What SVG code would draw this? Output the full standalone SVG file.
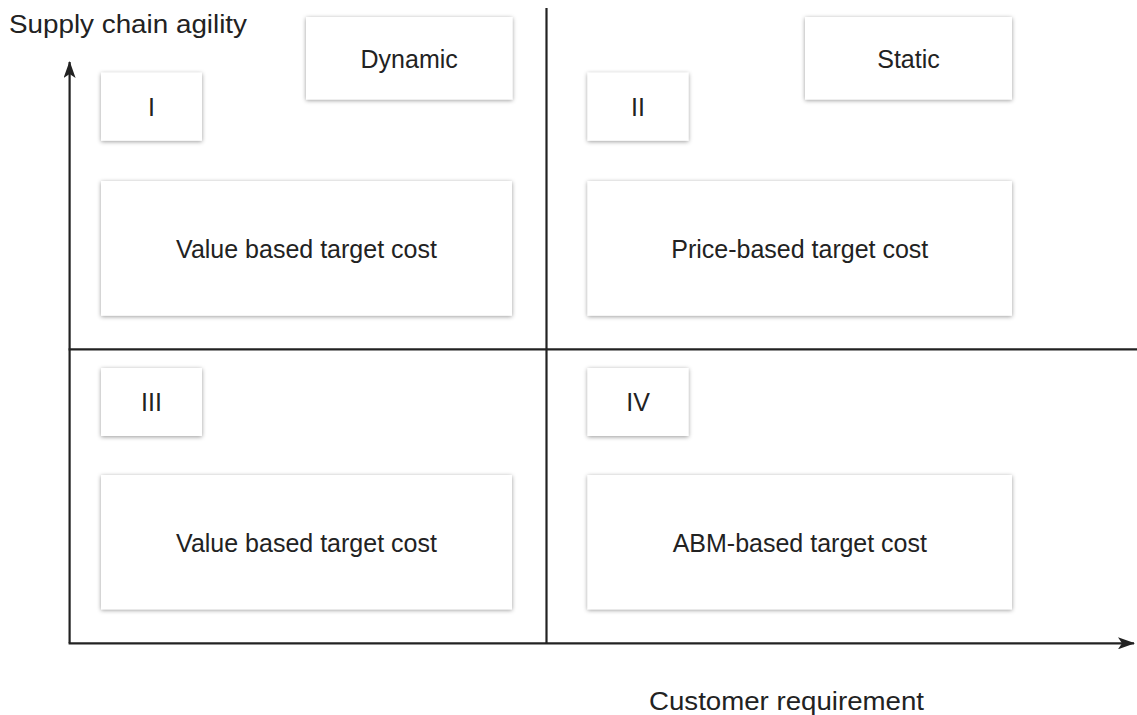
<svg xmlns="http://www.w3.org/2000/svg" width="1137" height="715" viewBox="0 0 1137 715">
  <style>
    .box { fill: #ffffff; filter: url(#soft); }
    .lbl { font-family: "Liberation Sans", Arial, sans-serif; font-size: 25px; fill: #222222; text-anchor: middle; }
    .axis-lbl { font-family: "Liberation Sans", Arial, sans-serif; font-size: 26px; fill: #222222; }
    .line { stroke: #222222; stroke-width: 2.2; fill: none; }
  </style>
  <defs>
    <filter id="soft" x="-10%" y="-20%" width="120%" height="140%">
      <feDropShadow dx="0" dy="1" stdDeviation="2" flood-color="#000000" flood-opacity="0.4"/>
    </filter>
    <marker id="arrow" viewBox="0 0 17 12" refX="16" refY="6" markerWidth="17" markerHeight="12" markerUnits="userSpaceOnUse" orient="auto">
      <path d="M0,0 L17,6 L0,12 L4,6 Z" fill="#222222"/>
    </marker>
  </defs>

  <rect width="1137" height="715" fill="#ffffff"/>

  <!-- axes and quadrant dividers -->
  <g id="connectors">
    <line class="line" x1="69.6" y1="643.3" x2="69.6" y2="62" marker-end="url(#arrow)"/>
    <line class="line" x1="68.6" y1="643.3" x2="1134" y2="643.3" marker-end="url(#arrow)"/>
    <line class="line" x1="546.5" y1="8" x2="546.5" y2="643.3"/>
    <line class="line" x1="68.6" y1="349.3" x2="1137" y2="349.3"/>
  </g>

  <!-- axis titles -->
  <g id="axis-y-title">
    <text class="axis-lbl" x="9" y="33" textLength="238" lengthAdjust="spacingAndGlyphs">Supply chain agility</text>
  </g>
  <g id="axis-x-title">
    <text class="axis-lbl" x="649" y="710" textLength="275" lengthAdjust="spacingAndGlyphs">Customer requirement</text>
  </g>

  <!-- column headers -->
  <g id="dynamic">
    <rect class="box" x="306" y="17" width="206.5" height="82.5"/>
    <text class="lbl" x="409.2" y="68">Dynamic</text>
  </g>
  <g id="static">
    <rect class="box" x="805" y="17" width="207" height="82.5"/>
    <text class="lbl" x="908.5" y="68">Static</text>
  </g>

  <!-- quadrant I -->
  <g id="q1">
    <rect class="box" x="101" y="72.7" width="101" height="68"/>
    <text class="lbl" x="151.5" y="116">I</text>
  </g>
  <g id="q1-cost">
    <rect class="box" x="101" y="181" width="411" height="134.7"/>
    <text class="lbl" x="306.5" y="258">Value based target cost</text>
  </g>

  <!-- quadrant II -->
  <g id="q2">
    <rect class="box" x="587.5" y="72.7" width="101" height="68"/>
    <text class="lbl" x="638" y="116">II</text>
  </g>
  <g id="q2-cost">
    <rect class="box" x="587.5" y="181" width="424.5" height="134.7"/>
    <text class="lbl" x="799.8" y="258">Price-based target cost</text>
  </g>

  <!-- quadrant III -->
  <g id="q3">
    <rect class="box" x="101" y="368" width="101" height="68"/>
    <text class="lbl" x="151.5" y="411">III</text>
  </g>
  <g id="q3-cost">
    <rect class="box" x="101" y="475" width="411" height="134.3"/>
    <text class="lbl" x="306.5" y="551.7">Value based target cost</text>
  </g>

  <!-- quadrant IV -->
  <g id="q4">
    <rect class="box" x="587.5" y="368" width="101" height="68"/>
    <text class="lbl" x="638" y="411">IV</text>
  </g>
  <g id="q4-cost">
    <rect class="box" x="587.5" y="475" width="424.5" height="134.3"/>
    <text class="lbl" x="799.8" y="551.7">ABM-based target cost</text>
  </g>
</svg>
